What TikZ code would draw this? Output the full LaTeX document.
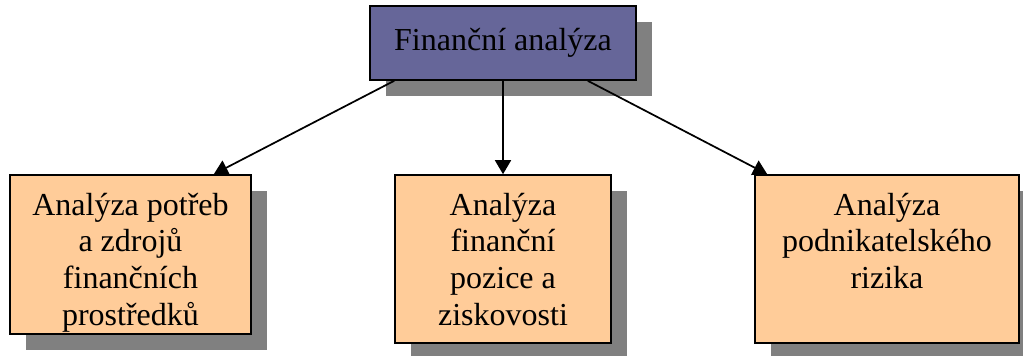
\documentclass[tikz,border=0pt]{standalone}
\usepackage{fontspec}
\setmainfont{Liberation Serif}
\usetikzlibrary{arrows.meta,shadows}
\definecolor{boss}{RGB}{102,102,153}
\definecolor{peach}{RGB}{255,204,153}
\definecolor{shade}{RGB}{128,128,128}
% top aligned text inside a fixed box
\newcommand{\boxtext}[3]{\parbox[c][#1][t]{#2}{\centering\rule{0pt}{30pt}#3}}

\begin{document}
\begin{tikzpicture}[x=0.75pt,y=-0.75pt,
    card/.style={draw=black, line width=1.2pt, inner sep=0pt,
      font=\fontsize{24}{27.5}\selectfont,
      drop shadow={shadow xshift=12pt, shadow yshift=-12pt, fill=shade, opacity=1}},
    arr/.style={line width=1.3pt, -{Triangle[length=10.5pt,width=12pt]}}]
  \useasboundingbox (0,0) rectangle (1023,356);

  \node[card, fill=boss, minimum width=199.5pt, minimum height=55.5pt] (fa) at (503,43) {Finanční analýza};

  \node[card, fill=peach] (pot) at (130.5,254.5)
    {\boxtext{119.25pt}{180.75pt}{Analýza potřeb\\ a zdrojů\\ finančních\\ prostředků}};
  \node[card, fill=peach] (poz) at (503,259)
    {\boxtext{126pt}{162pt}{Analýza\\ finanční\\ pozice a\\ ziskovosti}};
  \node[card, fill=peach] (riz) at (887,259)
    {\boxtext{126pt}{198pt}{Analýza\\ podnikatelského\\ rizika}};

  \draw[arr] ([xshift=18.75pt]fa.south west) -- ([xshift=-28.5pt]pot.north east);
  \draw[arr] (fa.south) -- (poz.north);
  \draw[arr] ([xshift=-36.75pt]fa.south east) -- ([xshift=9.75pt]riz.north west);
\end{tikzpicture}
\end{document}
